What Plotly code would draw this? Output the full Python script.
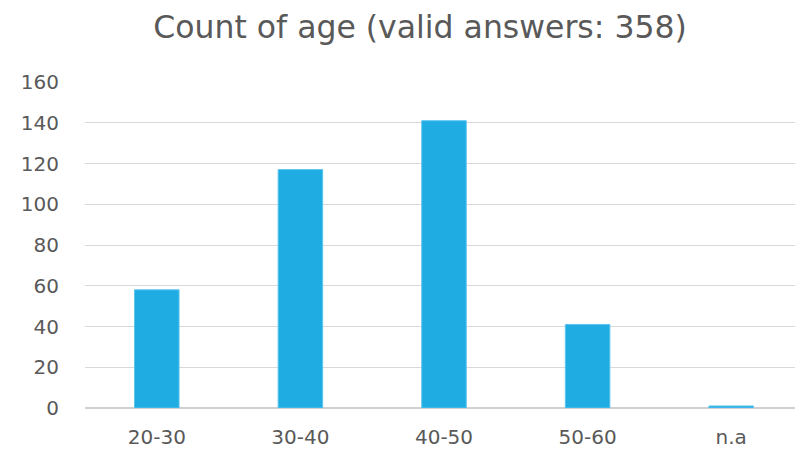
import plotly.graph_objects as go

categories = ["20-30", "30-40", "40-50", "50-60", "n.a"]
counts = [58, 117, 141, 41, 1]
y_ticks = [0, 20, 40, 60, 80, 100, 120, 140, 160]

# The page body has an 8px margin, so the figure is sized/offset to compensate.
W, H = 795, 443

fig = go.Figure(go.Bar(
    x=categories, y=counts,
    marker=dict(color="#1EACE3", line=dict(color="#5cc4ee", width=1)),
    width=0.31,
))

fig.update_layout(
    width=W, height=H,
    margin=dict(l=77, r=0, t=74, b=43),
    paper_bgcolor="white", plot_bgcolor="white",
    font=dict(family="DejaVu Sans", color="#595959", size=18),
    title=dict(text="Count of age (valid answers: 358)", x=412 / W, xanchor="center",
               xref="container", y=1 - 18.5 / H, yanchor="middle",
               font=dict(size=31.5, color="#595959")),
    showlegend=False,
)
fig.update_yaxes(range=[0, 160], tickvals=y_ticks, showgrid=True, gridcolor="#d9d9d9",
                 gridwidth=1, zeroline=True, zerolinecolor="#d0d0d0", zerolinewidth=2,
                 automargin=False, ticklabelstandoff=25,
                 tickfont=dict(size=20, color="#595959"))
fig.update_xaxes(showgrid=False, automargin=False, ticklabelstandoff=15,
                 tickfont=dict(size=20, color="#595959"))

fig.write_html("out.html")
